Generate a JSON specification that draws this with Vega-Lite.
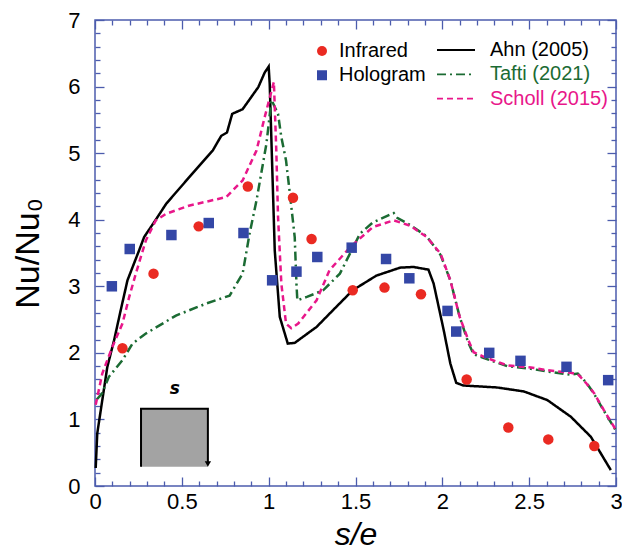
{
  "$schema": "https://vega.github.io/schema/vega-lite/v6.json",
  "width": 521,
  "height": 466,
  "autosize": {"type": "none"},
  "padding": {"left": 95, "top": 20, "right": 6, "bottom": 70},
  "background": "white",
  "config": {
    "view": {"stroke": "#4c5cad", "strokeWidth": 1.5},
    "font": "Liberation Sans"
  },
  "datasets": {
    "curves": [
      {"series": "Ahn (2005)", "x": 0.004, "y": 0.27},
      {"series": "Ahn (2005)", "x": 0.013, "y": 0.79},
      {"series": "Ahn (2005)", "x": 0.042, "y": 1.29},
      {"series": "Ahn (2005)", "x": 0.071, "y": 1.79},
      {"series": "Ahn (2005)", "x": 0.11, "y": 2.19},
      {"series": "Ahn (2005)", "x": 0.148, "y": 2.64},
      {"series": "Ahn (2005)", "x": 0.187, "y": 3.09},
      {"series": "Ahn (2005)", "x": 0.254, "y": 3.54},
      {"series": "Ahn (2005)", "x": 0.283, "y": 3.74},
      {"series": "Ahn (2005)", "x": 0.35, "y": 4.0},
      {"series": "Ahn (2005)", "x": 0.41, "y": 4.24},
      {"series": "Ahn (2005)", "x": 0.543, "y": 4.64},
      {"series": "Ahn (2005)", "x": 0.678, "y": 5.04},
      {"series": "Ahn (2005)", "x": 0.727, "y": 5.26},
      {"series": "Ahn (2005)", "x": 0.76, "y": 5.31},
      {"series": "Ahn (2005)", "x": 0.79, "y": 5.59},
      {"series": "Ahn (2005)", "x": 0.85, "y": 5.66},
      {"series": "Ahn (2005)", "x": 0.94, "y": 5.99},
      {"series": "Ahn (2005)", "x": 0.977, "y": 6.21},
      {"series": "Ahn (2005)", "x": 1.0, "y": 6.3},
      {"series": "Ahn (2005)", "x": 1.006, "y": 6.04},
      {"series": "Ahn (2005)", "x": 1.035, "y": 3.54},
      {"series": "Ahn (2005)", "x": 1.064, "y": 2.54},
      {"series": "Ahn (2005)", "x": 1.11, "y": 2.14},
      {"series": "Ahn (2005)", "x": 1.15, "y": 2.15},
      {"series": "Ahn (2005)", "x": 1.276, "y": 2.39},
      {"series": "Ahn (2005)", "x": 1.37, "y": 2.64},
      {"series": "Ahn (2005)", "x": 1.484, "y": 2.94},
      {"series": "Ahn (2005)", "x": 1.62, "y": 3.16},
      {"series": "Ahn (2005)", "x": 1.757, "y": 3.28},
      {"series": "Ahn (2005)", "x": 1.834, "y": 3.29},
      {"series": "Ahn (2005)", "x": 1.92, "y": 3.25},
      {"series": "Ahn (2005)", "x": 1.95, "y": 3.04},
      {"series": "Ahn (2005)", "x": 2.008, "y": 2.34},
      {"series": "Ahn (2005)", "x": 2.046, "y": 1.84},
      {"series": "Ahn (2005)", "x": 2.08, "y": 1.55},
      {"series": "Ahn (2005)", "x": 2.12, "y": 1.51},
      {"series": "Ahn (2005)", "x": 2.316, "y": 1.48},
      {"series": "Ahn (2005)", "x": 2.47, "y": 1.42},
      {"series": "Ahn (2005)", "x": 2.605, "y": 1.29},
      {"series": "Ahn (2005)", "x": 2.74, "y": 1.04},
      {"series": "Ahn (2005)", "x": 2.855, "y": 0.74},
      {"series": "Ahn (2005)", "x": 2.97, "y": 0.24},
      {"series": "Tafti (2021)", "x": 0.01, "y": 1.3},
      {"series": "Tafti (2021)", "x": 0.04, "y": 1.39},
      {"series": "Tafti (2021)", "x": 0.08, "y": 1.64},
      {"series": "Tafti (2021)", "x": 0.158, "y": 1.89},
      {"series": "Tafti (2021)", "x": 0.216, "y": 2.14},
      {"series": "Tafti (2021)", "x": 0.293, "y": 2.29},
      {"series": "Tafti (2021)", "x": 0.466, "y": 2.56},
      {"series": "Tafti (2021)", "x": 0.64, "y": 2.74},
      {"series": "Tafti (2021)", "x": 0.775, "y": 2.86},
      {"series": "Tafti (2021)", "x": 0.85, "y": 3.19},
      {"series": "Tafti (2021)", "x": 0.89, "y": 3.79},
      {"series": "Tafti (2021)", "x": 0.93, "y": 4.29},
      {"series": "Tafti (2021)", "x": 0.987, "y": 5.14},
      {"series": "Tafti (2021)", "x": 1.016, "y": 5.8},
      {"series": "Tafti (2021)", "x": 1.054, "y": 5.59},
      {"series": "Tafti (2021)", "x": 1.073, "y": 5.24},
      {"series": "Tafti (2021)", "x": 1.1, "y": 4.89},
      {"series": "Tafti (2021)", "x": 1.12, "y": 4.44},
      {"series": "Tafti (2021)", "x": 1.15, "y": 3.74},
      {"series": "Tafti (2021)", "x": 1.16, "y": 3.04},
      {"series": "Tafti (2021)", "x": 1.165, "y": 2.79},
      {"series": "Tafti (2021)", "x": 1.22, "y": 2.84},
      {"series": "Tafti (2021)", "x": 1.314, "y": 2.94},
      {"series": "Tafti (2021)", "x": 1.41, "y": 3.19},
      {"series": "Tafti (2021)", "x": 1.526, "y": 3.79},
      {"series": "Tafti (2021)", "x": 1.6, "y": 3.96},
      {"series": "Tafti (2021)", "x": 1.72, "y": 4.1},
      {"series": "Tafti (2021)", "x": 1.74, "y": 4.03},
      {"series": "Tafti (2021)", "x": 1.815, "y": 3.92},
      {"series": "Tafti (2021)", "x": 1.91, "y": 3.75},
      {"series": "Tafti (2021)", "x": 1.99, "y": 3.47},
      {"series": "Tafti (2021)", "x": 2.046, "y": 3.09},
      {"series": "Tafti (2021)", "x": 2.1, "y": 2.54},
      {"series": "Tafti (2021)", "x": 2.15, "y": 2.15},
      {"series": "Tafti (2021)", "x": 2.18, "y": 1.98},
      {"series": "Tafti (2021)", "x": 2.24, "y": 1.92},
      {"series": "Tafti (2021)", "x": 2.374, "y": 1.8},
      {"series": "Tafti (2021)", "x": 2.51, "y": 1.76},
      {"series": "Tafti (2021)", "x": 2.605, "y": 1.72},
      {"series": "Tafti (2021)", "x": 2.74, "y": 1.67},
      {"series": "Tafti (2021)", "x": 2.78, "y": 1.69},
      {"series": "Tafti (2021)", "x": 2.83, "y": 1.55},
      {"series": "Tafti (2021)", "x": 2.875, "y": 1.38},
      {"series": "Tafti (2021)", "x": 2.93, "y": 1.13},
      {"series": "Tafti (2021)", "x": 3.0, "y": 0.83},
      {"series": "Scholl (2015)", "x": 0.004, "y": 1.22},
      {"series": "Scholl (2015)", "x": 0.042, "y": 1.69},
      {"series": "Scholl (2015)", "x": 0.1, "y": 2.09},
      {"series": "Scholl (2015)", "x": 0.158, "y": 2.44},
      {"series": "Scholl (2015)", "x": 0.197, "y": 2.84},
      {"series": "Scholl (2015)", "x": 0.235, "y": 3.19},
      {"series": "Scholl (2015)", "x": 0.293, "y": 3.69},
      {"series": "Scholl (2015)", "x": 0.35, "y": 3.99},
      {"series": "Scholl (2015)", "x": 0.41, "y": 4.09},
      {"series": "Scholl (2015)", "x": 0.54, "y": 4.21},
      {"series": "Scholl (2015)", "x": 0.755, "y": 4.34},
      {"series": "Scholl (2015)", "x": 0.85, "y": 4.59},
      {"series": "Scholl (2015)", "x": 0.93, "y": 5.04},
      {"series": "Scholl (2015)", "x": 0.977, "y": 5.54},
      {"series": "Scholl (2015)", "x": 1.03, "y": 6.07},
      {"series": "Scholl (2015)", "x": 1.044, "y": 5.04},
      {"series": "Scholl (2015)", "x": 1.054, "y": 4.04},
      {"series": "Scholl (2015)", "x": 1.073, "y": 3.04},
      {"series": "Scholl (2015)", "x": 1.1, "y": 2.44},
      {"series": "Scholl (2015)", "x": 1.13, "y": 2.37},
      {"series": "Scholl (2015)", "x": 1.17, "y": 2.44},
      {"series": "Scholl (2015)", "x": 1.276, "y": 2.79},
      {"series": "Scholl (2015)", "x": 1.35, "y": 3.24},
      {"series": "Scholl (2015)", "x": 1.47, "y": 3.59},
      {"series": "Scholl (2015)", "x": 1.6, "y": 3.89},
      {"series": "Scholl (2015)", "x": 1.72, "y": 3.99},
      {"series": "Scholl (2015)", "x": 1.815, "y": 3.91},
      {"series": "Scholl (2015)", "x": 1.91, "y": 3.74},
      {"series": "Scholl (2015)", "x": 1.99, "y": 3.49},
      {"series": "Scholl (2015)", "x": 2.046, "y": 3.09},
      {"series": "Scholl (2015)", "x": 2.1, "y": 2.54},
      {"series": "Scholl (2015)", "x": 2.15, "y": 2.19},
      {"series": "Scholl (2015)", "x": 2.18, "y": 2.01},
      {"series": "Scholl (2015)", "x": 2.24, "y": 1.94},
      {"series": "Scholl (2015)", "x": 2.374, "y": 1.81},
      {"series": "Scholl (2015)", "x": 2.51, "y": 1.78},
      {"series": "Scholl (2015)", "x": 2.605, "y": 1.74},
      {"series": "Scholl (2015)", "x": 2.74, "y": 1.7},
      {"series": "Scholl (2015)", "x": 2.78, "y": 1.68},
      {"series": "Scholl (2015)", "x": 2.83, "y": 1.54},
      {"series": "Scholl (2015)", "x": 2.875, "y": 1.39},
      {"series": "Scholl (2015)", "x": 2.93, "y": 1.14},
      {"series": "Scholl (2015)", "x": 3.0, "y": 0.84}
    ],
    "measurements": [
      {"series": "Infrared", "x": 0.158, "y": 2.07},
      {"series": "Infrared", "x": 0.337, "y": 3.19},
      {"series": "Infrared", "x": 0.597, "y": 3.9},
      {"series": "Infrared", "x": 0.88, "y": 4.5},
      {"series": "Infrared", "x": 1.14, "y": 4.33},
      {"series": "Infrared", "x": 1.247, "y": 3.71},
      {"series": "Infrared", "x": 1.484, "y": 2.94},
      {"series": "Infrared", "x": 1.667, "y": 2.98},
      {"series": "Infrared", "x": 1.877, "y": 2.88},
      {"series": "Infrared", "x": 2.14, "y": 1.6},
      {"series": "Infrared", "x": 2.38, "y": 0.88},
      {"series": "Infrared", "x": 2.61, "y": 0.7},
      {"series": "Infrared", "x": 2.875, "y": 0.6},
      {"series": "Hologram", "x": 0.097, "y": 3.0},
      {"series": "Hologram", "x": 0.2, "y": 3.56},
      {"series": "Hologram", "x": 0.44, "y": 3.77},
      {"series": "Hologram", "x": 0.655, "y": 3.95},
      {"series": "Hologram", "x": 0.855, "y": 3.8},
      {"series": "Hologram", "x": 1.02, "y": 3.09},
      {"series": "Hologram", "x": 1.16, "y": 3.22},
      {"series": "Hologram", "x": 1.28, "y": 3.44},
      {"series": "Hologram", "x": 1.478, "y": 3.58},
      {"series": "Hologram", "x": 1.676, "y": 3.41},
      {"series": "Hologram", "x": 1.81, "y": 3.12},
      {"series": "Hologram", "x": 2.03, "y": 2.63},
      {"series": "Hologram", "x": 2.08, "y": 2.32},
      {"series": "Hologram", "x": 2.27, "y": 2.0},
      {"series": "Hologram", "x": 2.45, "y": 1.88},
      {"series": "Hologram", "x": 2.715, "y": 1.79},
      {"series": "Hologram", "x": 2.955, "y": 1.59}
    ],
    "inset": [{"x": 0.265, "x2": 0.65, "y": 0.29, "y2": 1.16}],
    "insetEdge": [
      {"i": 0, "x": 0.265, "y": 0.29},
      {"i": 1, "x": 0.265, "y": 1.16},
      {"i": 2, "x": 0.65, "y": 1.16},
      {"i": 3, "x": 0.65, "y": 0.34}
    ],
    "insetArrow": [{"x": 0.65, "y": 0.33}],
    "insetLabel": [{"x": 0.46, "y": 1.46, "label": "s"}]
  },
  "resolve": {"axis": {"x": "independent", "y": "independent"}},
  "layer": [
    {
      "data": {"name": "inset"},
      "mark": {"type": "rect", "fill": "#a3a3a3"},
      "encoding": {
        "x": {"field": "x", "type": "quantitative", "scale": {"domain": [0, 3], "nice": false},
          "axis": {"orient": "bottom", "title": null, "labels": false, "grid": false, "domain": false,
            "tickColor": "#4c5cad", "tickWidth": 1.3, "tickSize": -5,
            "values": [0.1,0.2,0.3,0.4,0.6,0.7,0.8,0.9,1.1,1.2,1.3,1.4,1.6,1.7,1.8,1.9,2.1,2.2,2.3,2.4,2.6,2.7,2.8,2.9]}},
        "x2": {"field": "x2"},
        "y": {"field": "y", "type": "quantitative", "scale": {"domain": [0, 7], "nice": false},
          "axis": {"orient": "left", "title": null, "labels": false, "grid": false, "domain": false,
            "tickColor": "#4c5cad", "tickWidth": 1.3, "tickSize": -5,
            "values": [0.2,0.4,0.6,0.8,1.2,1.4,1.6,1.8,2.2,2.4,2.6,2.8,3.2,3.4,3.6,3.8,4.2,4.4,4.6,4.8,5.2,5.4,5.6,5.8,6.2,6.4,6.6,6.8]}},
        "y2": {"field": "y2"}
      }
    },
    {
      "data": {"name": "insetEdge"},
      "mark": {"type": "line", "color": "black", "strokeWidth": 2},
      "encoding": {
        "x": {"field": "x", "type": "quantitative",
          "axis": {"orient": "top", "title": null, "labels": false, "grid": false, "domain": false,
            "tickColor": "#4c5cad", "tickWidth": 1.3, "tickSize": -5,
            "values": [0.1,0.2,0.3,0.4,0.6,0.7,0.8,0.9,1.1,1.2,1.3,1.4,1.6,1.7,1.8,1.9,2.1,2.2,2.3,2.4,2.6,2.7,2.8,2.9]}},
        "y": {"field": "y", "type": "quantitative",
          "axis": {"orient": "right", "title": null, "labels": false, "grid": false, "domain": false,
            "tickColor": "#4c5cad", "tickWidth": 1.3, "tickSize": -5,
            "values": [0.2,0.4,0.6,0.8,1.2,1.4,1.6,1.8,2.2,2.4,2.6,2.8,3.2,3.4,3.6,3.8,4.2,4.4,4.6,4.8,5.2,5.4,5.6,5.8,6.2,6.4,6.6,6.8]}},
        "order": {"field": "i"}
      }
    },
    {
      "data": {"name": "insetArrow"},
      "mark": {"type": "point", "shape": "triangle-down", "filled": true, "color": "black", "size": 40, "opacity": 1},
      "encoding": {
        "x": {"field": "x", "type": "quantitative",
          "axis": {"orient": "bottom", "title": null, "labels": false, "grid": false, "domain": false,
            "tickColor": "#4c5cad", "tickWidth": 1.3, "tickSize": -9,
            "values": [0, 0.5, 1, 1.5, 2, 2.5, 3]}},
        "y": {"field": "y", "type": "quantitative",
          "axis": {"orient": "left", "title": null, "labels": false, "grid": false, "domain": false,
            "tickColor": "#4c5cad", "tickWidth": 1.3, "tickSize": -9,
            "values": [0, 1, 2, 3, 4, 5, 6, 7]}}
      }
    },
    {
      "data": {"name": "insetLabel"},
      "mark": {"type": "text", "font": "DejaVu Sans", "fontStyle": "italic", "fontWeight": "bold", "fontSize": 17, "color": "black"},
      "encoding": {
        "x": {"field": "x", "type": "quantitative", "axis": null},
        "y": {"field": "y", "type": "quantitative", "axis": null},
        "text": {"field": "label"}
      }
    },
    {
      "data": {"name": "curves"},
      "mark": {"type": "line", "strokeWidth": 2.5},
      "encoding": {
        "x": {
          "field": "x", "type": "quantitative", "scale": {"domain": [0, 3], "nice": false},
          "axis": {
            "orient": "bottom", "title": "s/e", "titleFontStyle": "italic", "titleFontWeight": "normal", "titleFont": "Liberation Sans", "titleFontSize": 32, "titleColor": "black", "titlePadding": 7,
            "grid": false, "domain": false, "ticks": false, "labelOverlap": false, "labelFlush": false,
            "labelFont": "Liberation Sans", "labelFontSize": 22, "labelColor": "black",
            "values": [0, 0.5, 1, 1.5, 2, 2.5, 3], "format": "~g",
            "labelPadding": 5
          }
        },
        "y": {
          "field": "y", "type": "quantitative", "scale": {"domain": [0, 7], "nice": false},
          "axis": {
            "orient": "left", "title": "Nu/Nu₀", "titleFont": "Liberation Sans", "titleFontSize": 34, "titleFontWeight": "normal", "titleColor": "black", "titlePadding": 22,
            "grid": false, "domain": false, "ticks": false, "labelOverlap": false, "labelFlush": false,
            "labelFont": "Liberation Sans", "labelFontSize": 22, "labelColor": "black",
            "values": [0, 1, 2, 3, 4, 5, 6, 7], "format": "~g",
            "labelPadding": 15
          }
        },
        "stroke": {
          "field": "series", "type": "nominal",
          "scale": {"domain": ["Ahn (2005)", "Tafti (2021)", "Scholl (2015)"], "range": ["#000000", "#1b6b33", "#e8178a"]},
          "legend": {
            "title": null, "orient": "none", "legendX": 341, "legendY": 20, "padding": 0,
            "symbolType": "stroke", "symbolSize": 1444, "symbolStrokeWidth": 1.8, "clipHeight": 20, "rowPadding": 4.3,
            "labelFont": "Liberation Sans", "labelFontSize": 20, "labelOffset": 14, "labelLimit": 300,
            "encode": {"labels": {"update": {"fill": {"signal": "datum.value === 'Ahn (2005)' ? '#000000' : datum.value === 'Tafti (2021)' ? '#1b6b33' : '#e8178a'"}}}}
          }
        },
        "strokeDash": {
          "field": "series", "type": "nominal",
          "scale": {"domain": ["Ahn (2005)", "Tafti (2021)", "Scholl (2015)"], "range": [[1, 0], [9, 4, 2, 4], [6, 4]]},
          "legend": {
            "title": null, "orient": "none", "legendX": 341, "legendY": 20, "padding": 0,
            "symbolType": "stroke", "symbolSize": 1444, "symbolStrokeWidth": 1.8, "clipHeight": 20, "rowPadding": 4.3,
            "labelFont": "Liberation Sans", "labelFontSize": 20, "labelOffset": 14, "labelLimit": 300,
            "encode": {"labels": {"update": {"fill": {"signal": "datum.value === 'Ahn (2005)' ? '#000000' : datum.value === 'Tafti (2021)' ? '#1b6b33' : '#e8178a'"}}}}
          }
        }
      }
    },
    {
      "data": {"name": "measurements"},
      "mark": {"type": "point", "filled": true, "opacity": 1, "size": 110},
      "encoding": {
        "x": {
          "field": "x", "type": "quantitative", "scale": {"domain": [0, 3], "nice": false},
          "axis": {"orient": "top", "title": null, "labels": false, "grid": false, "domain": false,
            "tickColor": "#4c5cad", "tickWidth": 1.3, "tickSize": -9,
            "values": [0, 0.5, 1, 1.5, 2, 2.5, 3]}
        },
        "y": {
          "field": "y", "type": "quantitative", "scale": {"domain": [0, 7], "nice": false},
          "axis": {"orient": "right", "title": null, "labels": false, "grid": false, "domain": false,
            "tickColor": "#4c5cad", "tickWidth": 1.3, "tickSize": -9,
            "values": [0, 1, 2, 3, 4, 5, 6, 7]}
        },
        "fill": {
          "field": "series", "type": "nominal",
          "scale": {"domain": ["Infrared", "Hologram"], "range": ["#ea2a22", "#3447a6"]},
          "legend": {
            "title": null, "orient": "none", "legendX": 217, "legendY": 21, "padding": 0,
            "symbolSize": 100, "symbolStrokeWidth": 0, "clipHeight": 20, "rowPadding": 4.3,
            "labelFont": "Liberation Sans", "labelFontSize": 20, "labelOffset": 7,
            "encode": {"labels": {"update": {"fill": {"signal": "datum.value === 'Infrared' ? '#ea2a22' : '#3447a6'"}}}}
          }
        },
        "shape": {
          "field": "series", "type": "nominal",
          "scale": {"domain": ["Infrared", "Hologram"], "range": ["circle", "square"]},
          "legend": {
            "title": null, "orient": "none", "legendX": 217, "legendY": 21, "padding": 0,
            "symbolSize": 100, "symbolStrokeWidth": 0, "clipHeight": 20, "rowPadding": 4.3,
            "labelFont": "Liberation Sans", "labelFontSize": 20, "labelOffset": 7,
            "encode": {"labels": {"update": {"fill": {"signal": "datum.value === 'Infrared' ? '#ea2a22' : '#3447a6'"}}}}
          }
        }
      }
    }
  ]
}
